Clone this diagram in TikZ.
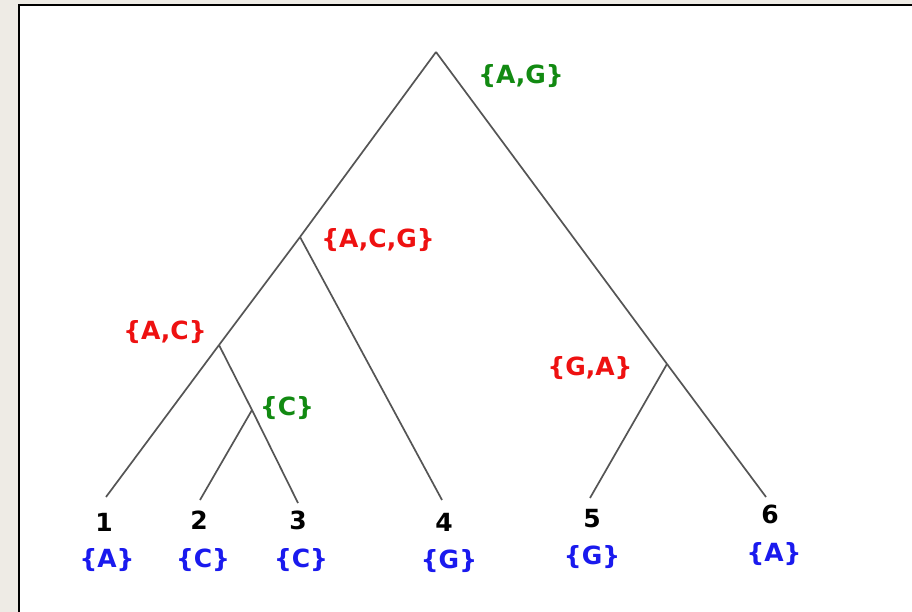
\documentclass[tikz,border=0pt]{standalone}
\usepackage{fontspec}
\setmainfont{DejaVu Sans}
\definecolor{beige}{HTML}{EEEBE5}
\definecolor{edgegray}{HTML}{555555}
\definecolor{setgreen}{HTML}{128A12}
\definecolor{setred}{HTML}{EE1111}
\definecolor{setblue}{HTML}{1A1AEE}
\begin{document}
\begin{tikzpicture}[x=1pt,y=-1pt,
  edge/.style={draw=edgegray,line width=1.7pt},
  lab/.style={font=\bfseries\fontsize{25}{26}\selectfont,inner sep=0pt},
  inner/.style={lab,text=setred},
  innerg/.style={lab,text=setgreen},
  leafset/.style={lab,text=setblue},
  leafnum/.style={lab,text=black}]
\useasboundingbox (0,0) rectangle (912,612);
\fill[beige] (0,0) rectangle (912,612);
\fill[white] (19,5) rectangle (912,612);
\draw[black,line width=2.2pt] (19,612) -- (19,5) -- (912,5);
% tree nodes
\coordinate (r) at (436,52);
\coordinate (acg) at (300,237);
\coordinate (ac) at (219,345);
\coordinate (c) at (252,410);
\coordinate (ga) at (667,364);
\coordinate (l1) at (106,497);
\coordinate (l2) at (200,500);
\coordinate (l3) at (298,503);
\coordinate (l4) at (442,500);
\coordinate (l5) at (590,498);
\coordinate (l6) at (766,497);
% edges
\draw[edge] (r) -- (acg);
\draw[edge] (acg) -- (ac);
\draw[edge] (ac) -- (l1);
\draw[edge] (acg) -- (l4);
\draw[edge] (ac) -- (c);
\draw[edge] (c) -- (l3);
\draw[edge] (c) -- (l2);
\draw[edge] (r) -- (ga);
\draw[edge] (ga) -- (l6);
\draw[edge] (ga) -- (l5);
% inner labels
\node[innerg] (tAG) at (521,76) {\{A,G\}};
\node[inner] (tACG) at (378,240) {\{A,C,G\}};
\node[inner] (tAC) at (165,332) {\{A,C\}};
\node[innerg] (tC) at (287,408) {\{C\}};
\node[inner] (tGA) at (590,368) {\{G,A\}};
% leaf numbers
\node[leafnum] (n1) at (104,522) {1};
\node[leafnum] (n2) at (199,520) {2};
\node[leafnum] (n3) at (298,520) {3};
\node[leafnum] (n4) at (444,522) {4};
\node[leafnum] (n5) at (592,519) {5};
\node[leafnum] (n6) at (770,514) {6};
% leaf sets
\node[leafset] (s1) at (107,560) {\{A\}};
\node[leafset] (s2) at (203,560) {\{C\}};
\node[leafset] (s3) at (301,560) {\{C\}};
\node[leafset] (s4) at (449,561) {\{G\}};
\node[leafset] (s5) at (592,557) {\{G\}};
\node[leafset] (s6) at (774,554) {\{A\}};
\end{tikzpicture}
\end{document}
